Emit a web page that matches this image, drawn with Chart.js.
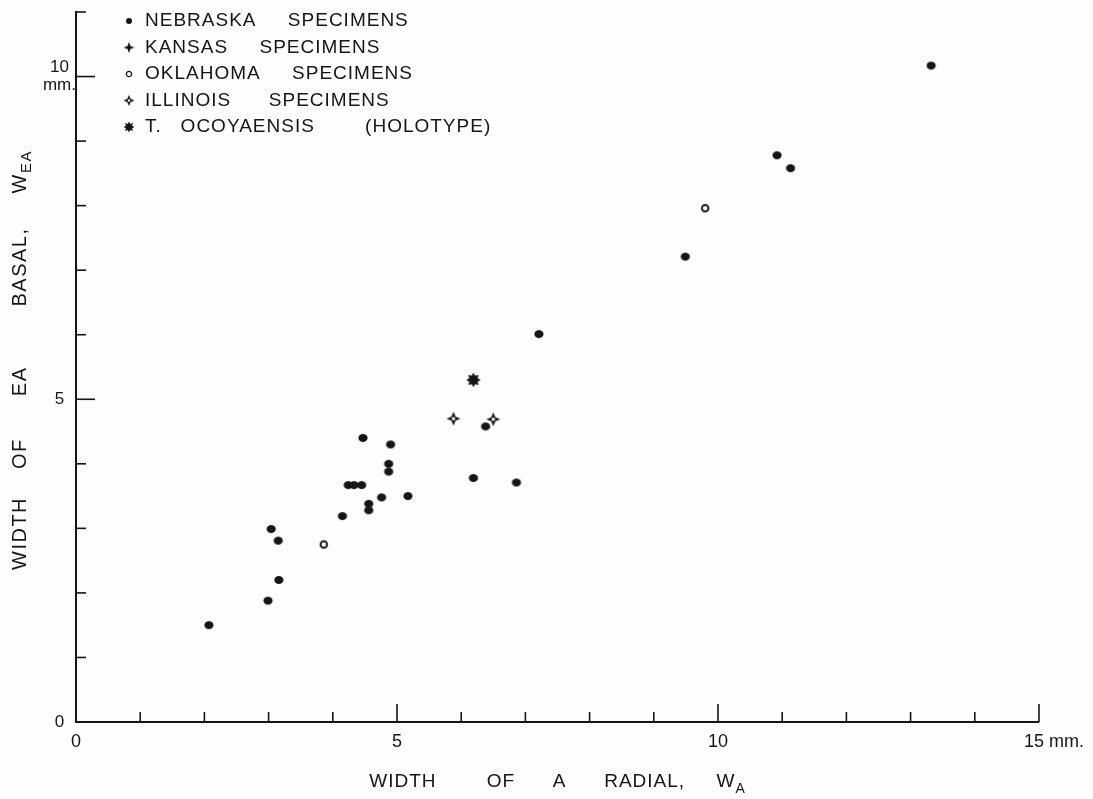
<!DOCTYPE html>
<html lang="en">
<head>
<meta charset="utf-8" />
<title>Width of EA basal against width of A radial</title>
<script src="https://cdn.jsdelivr.net/npm/chart.js@4.4.1/dist/chart.umd.min.js"></script>
<style>
  html, body { margin: 0; padding: 0; background: #fdfdfd; }
  #wrap { width: 1093px; height: 799px; }
</style>
</head>
<body>
<div id="wrap"><canvas id="plot" width="1093" height="799"></canvas></div>
<script>
var nebraskaX = [2.07, 2.99, 3.16, 3.04, 3.15, 4.15, 4.24, 4.33, 4.45, 4.47, 4.56, 4.56, 4.76,
                 4.87, 4.87, 4.90, 5.17, 6.19, 6.38, 6.86, 7.21, 9.49, 10.92, 11.13, 13.32];
var nebraskaY = [1.50, 1.88, 2.20, 2.99, 2.81, 3.19, 3.67, 3.67, 3.67, 4.40, 3.38, 3.28, 3.48,
                 4.00, 3.88, 4.30, 3.50, 3.78, 4.58, 3.71, 6.01, 7.21, 8.78, 8.58, 10.17];
var kansasX = [];
var kansasY = [];
var oklahomaX = [3.86, 9.80];
var oklahomaY = [2.75, 7.96];
var illinoisX = [5.88, 6.50];
var illinoisY = [4.70, 4.69];
var holotypeX = [6.19];
var holotypeY = [5.30];

var seriesLabels = [
  'NEBRASKA     SPECIMENS',
  'KANSAS     SPECIMENS',
  'OKLAHOMA     SPECIMENS',
  'ILLINOIS      SPECIMENS',
  'T.   OCOYAENSIS        (HOLOTYPE)'
];
var xTickLabels = { 0: '0', 5: '5', 10: '10', 15: '      15 mm.' };
var yTickLabels = { 0: '0', 5: '5', 10: ['10', 'mm.'] };
var xTitle = ['WIDTH        OF      A      RADIAL,     W', 'A'];
var yTitleWords = ['WIDTH', 'OF', 'EA', 'BASAL,', 'W'];
var yTitleSub = 'EA';

var INK = '#151515';
var FONT = '"Liberation Sans", Arial, sans-serif';

function pts(xs, ys) {
  return xs.map(function (x, i) { return { x: x, y: ys[i] }; });
}

// little canvases used as point styles
function symbol(size, draw) {
  var c = document.createElement('canvas');
  c.width = size; c.height = size;
  var g = c.getContext('2d');
  g.translate(size / 2, size / 2);
  g.fillStyle = INK; g.strokeStyle = INK;
  draw(g);
  return c;
}
function dot(rx, ry) {
  return function (g) { g.beginPath(); g.ellipse(0, 0, rx, ry, 0, 0, Math.PI * 2); g.fill(); };
}
function ring(r, w) {
  return function (g) {
    g.beginPath(); g.arc(0, 0, r, 0, Math.PI * 2);
    g.fillStyle = '#fff'; g.fill(); g.lineWidth = w; g.stroke();
  };
}
function starPath(g, n, R, r) {
  g.beginPath();
  for (var k = 0; k < n * 2; k++) {
    var a = k * Math.PI / n - Math.PI / 2;
    var rad = k % 2 ? r : R;
    g.lineTo(Math.cos(a) * rad, Math.sin(a) * rad);
  }
  g.closePath();
}
// filled four-point star, optionally with a white eye in the middle
function star4(R, r, eye) {
  return function (g) {
    starPath(g, 4, R, r);
    g.fill();
    if (eye) {
      g.beginPath(); g.arc(0, 0, eye, 0, Math.PI * 2);
      g.fillStyle = '#fff'; g.fill();
    }
  };
}
function star8(R, r) {
  return function (g) { starPath(g, 8, R, r); g.fill(); };
}

var pointSymbols = [
  symbol(12, dot(4.6, 4)),
  symbol(18, star4(7, 2.6, 0)),
  symbol(12, ring(3.3, 1.9)),
  symbol(18, star4(7, 3, 1.7)),
  symbol(18, star8(7.2, 4.6))
];
var legendSymbols = [
  symbol(10, dot(3, 3)),
  symbol(14, star4(5.5, 2.1, 0)),
  symbol(10, ring(2.6, 1.3)),
  symbol(14, star4(5.5, 2.3, 1.3)),
  symbol(14, star8(5.5, 3.3))
];

var seriesX = [nebraskaX, kansasX, oklahomaX, illinoisX, holotypeX];
var seriesY = [nebraskaY, kansasY, oklahomaY, illinoisY, holotypeY];

var datasets = seriesLabels.map(function (label, i) {
  return {
    label: label,
    data: pts(seriesX[i], seriesY[i]),
    pointStyle: pointSymbols[i],
    backgroundColor: INK,
    borderColor: INK
  };
});

// inward tick marks, the legend and the axis titles of the original figure
var figurePlugin = {
  id: 'figureParts',
  afterDraw: function (chart) {
    var ctx = chart.ctx;
    var xs = chart.scales.x, ys = chart.scales.y;
    var left = chart.chartArea.left, bottom = chart.chartArea.bottom;
    ctx.save();
    ctx.strokeStyle = INK;
    ctx.lineWidth = 1.6;
    for (var v = 1; v <= 15; v++) {
      var px = xs.getPixelForValue(v);
      var len = v % 5 === 0 ? 18 : 10;
      ctx.beginPath(); ctx.moveTo(px, bottom); ctx.lineTo(px, bottom - len); ctx.stroke();
    }
    for (var w = 1; w <= 11; w++) {
      var py = ys.getPixelForValue(w);
      var l2 = w % 5 === 0 ? 19 : 10;
      ctx.beginPath(); ctx.moveTo(left, py); ctx.lineTo(left + l2, py); ctx.stroke();
    }

    // legend
    ctx.fillStyle = INK;
    ctx.font = '19px ' + FONT;
    ctx.letterSpacing = '1px';
    ctx.textBaseline = 'middle';
    ctx.textAlign = 'left';
    chart.data.datasets.forEach(function (ds, i) {
      var y = 21 + i * 26.5;
      var s = legendSymbols[i];
      ctx.drawImage(s, 129 - s.width / 2, y - s.height / 2);
      ctx.fillText(ds.label, 145, y);
    });

    // x title with subscript
    ctx.font = '19px ' + FONT;
    var mainW = ctx.measureText(xTitle[0]).width;
    ctx.font = '14px ' + FONT;
    var subW = ctx.measureText(xTitle[1]).width;
    var cx = (xs.left + xs.right) / 2;
    var x0 = cx - (mainW + subW) / 2;
    ctx.font = '19px ' + FONT;
    ctx.fillText(xTitle[0], x0, 782);
    ctx.font = '14px ' + FONT;
    ctx.fillText(xTitle[1], x0 + mainW, 789);

    // y title, rotated, word by word
    var gaps = [28, 42, 60, 34];
    ctx.translate(20, 570);
    ctx.rotate(-Math.PI / 2);
    ctx.letterSpacing = '1.5px';
    ctx.font = '20px ' + FONT;
    var pos = 0;
    yTitleWords.forEach(function (word, i) {
      ctx.fillText(word, pos, 0);
      pos += ctx.measureText(word).width + (gaps[i] || 0);
    });
    ctx.font = '15px ' + FONT;
    ctx.fillText(yTitleSub, pos, 7);
    ctx.restore();
  }
};

new Chart(document.getElementById('plot'), {
  type: 'scatter',
  data: { datasets: datasets },
  options: {
    responsive: false,
    animation: false,
    events: [],
    layout: { autoPadding: false, padding: { top: 12, right: 53, left: 0, bottom: 0 } },
    plugins: { legend: { display: false }, tooltip: { enabled: false } },
    scales: {
      x: {
        type: 'linear', min: 0, max: 15,
        afterFit: function (scale) { scale.height = 77; },
        grid: { display: false, drawTicks: false },
        border: { display: true, color: INK, width: 2 },
        ticks: {
          stepSize: 1, autoSkip: false, maxRotation: 0, padding: 9,
          color: INK, font: { family: FONT, size: 18 },
          callback: function (v) { return xTickLabels[v] !== undefined ? xTickLabels[v] : ''; }
        }
      },
      y: {
        type: 'linear', min: 0, max: 11,
        afterFit: function (scale) { scale.width = 76; },
        grid: { display: false, drawTicks: false },
        border: { display: true, color: INK, width: 2 },
        ticks: {
          stepSize: 1, autoSkip: false, padding: 0, crossAlign: 'center',
          color: INK, font: { family: FONT, size: 17, lineHeight: 1.05 },
          callback: function (v) { return yTickLabels[v] !== undefined ? yTickLabels[v] : ''; }
        }
      }
    }
  },
  plugins: [figurePlugin]
});
</script>
</body>
</html>
